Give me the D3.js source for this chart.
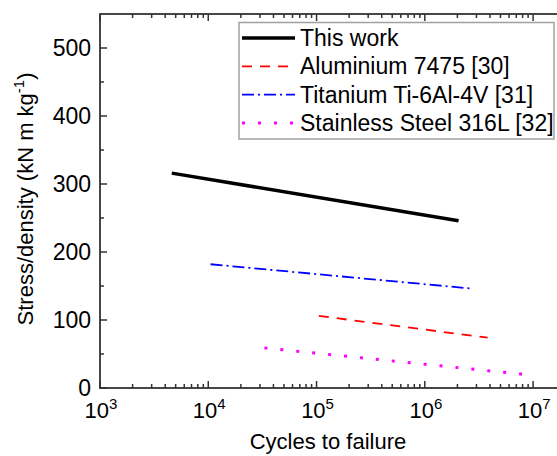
<!DOCTYPE html>
<html>
<head>
<meta charset="utf-8">
<script src="https://cdn.jsdelivr.net/npm/d3@7"></script>
<style>
  body { margin: 0; background: #fff; }
  text { font-family: "Liberation Sans", Arial, sans-serif; fill: #000; }
</style>
</head>
<body>
<div id="chart"></div>
<script>
// Series data (cycles, stress/density)
var thisWork = [[4.6e3, 316], [2.05e6, 246]];
var aluminium = [[1.05e5, 106], [3.8e6, 74]];
var titanium = [[1.05e4, 182], [2.8e6, 146]];
var stainless = [[3.3e4, 59], [8.3e6, 20]];

var seriesNames = ["This work", "Aluminium 7475 [30]", "Titanium Ti-6Al-4V [31]", "Stainless Steel 316L [32]"];
var xTickExps = [3, 4, 5, 6, 7];
var yTicks = [0, 100, 200, 300, 400, 500];

var width = 557, height = 456;

// Plot box (note: "top" is reserved on window, so use plot* names)
var plotLeft = 100, plotRight = 564, plotTop = 14, plotBottom = 388;

var x = d3.scaleLog().domain([1e3, 1.93e7]).range([plotLeft, plotRight]);
var y = d3.scaleLinear().domain([0, 550]).range([plotBottom, plotTop]);

var svg = d3.select("#chart").append("svg")
  .attr("width", width)
  .attr("height", height);

var series = [
  { data: thisWork, color: "#000000", width: 3.5, dash: null },
  { data: aluminium, color: "#ff0000", width: 1.8, dash: "10,8" },
  { data: titanium, color: "#0000ff", width: 1.8, dash: "12,4,2,4" },
  { data: stainless, color: "#ff00ff", width: 3, dash: "3,13" }
];

var line = d3.line()
  .x(function (d) { return x(d[0]); })
  .y(function (d) { return y(d[1]); });

// Lines
svg.selectAll("path.series")
  .data(series)
  .enter()
  .append("path")
  .attr("class", "series")
  .attr("d", function (d) { return line(d.data); })
  .attr("fill", "none")
  .attr("stroke", function (d) { return d.color; })
  .attr("stroke-width", function (d) { return d.width; })
  .attr("stroke-dasharray", function (d) { return d.dash; });

// Minor / major ticks
var axisColor = "#333";
var xMajor = xTickExps.map(function (e) { return Math.pow(10, e); });
var xMinor = [];
xTickExps.forEach(function (e) {
  for (var k = 2; k <= 9; k++) {
    var v = k * Math.pow(10, e);
    if (v < x.domain()[1]) xMinor.push(v);
  }
});
var yMinor = [50, 150, 250, 350, 450];

var ticks = svg.append("g").attr("stroke", axisColor).attr("stroke-width", 1.5);

[plotBottom, plotTop].forEach(function (base) {
  var dir = base === plotBottom ? -1 : 1;
  ticks.selectAll(null).data(xMajor).enter().append("line")
    .attr("x1", function (d) { return x(d); }).attr("x2", function (d) { return x(d); })
    .attr("y1", base).attr("y2", base + dir * 7);
  ticks.selectAll(null).data(xMinor).enter().append("line")
    .attr("x1", function (d) { return x(d); }).attr("x2", function (d) { return x(d); })
    .attr("y1", base).attr("y2", base + dir * 4);
});

[plotLeft, plotRight].forEach(function (base) {
  var dir = base === plotLeft ? 1 : -1;
  ticks.selectAll(null).data(yTicks).enter().append("line")
    .attr("y1", function (d) { return y(d); }).attr("y2", function (d) { return y(d); })
    .attr("x1", base).attr("x2", base + dir * 7);
  ticks.selectAll(null).data(yMinor).enter().append("line")
    .attr("y1", function (d) { return y(d); }).attr("y2", function (d) { return y(d); })
    .attr("x1", base).attr("x2", base + dir * 4);
});

// Frame
svg.append("rect")
  .attr("x", plotLeft).attr("y", plotTop)
  .attr("width", plotRight - plotLeft).attr("height", plotBottom - plotTop)
  .attr("fill", "none")
  .attr("stroke", axisColor)
  .attr("stroke-width", 1.8);

// Y tick labels
svg.selectAll("text.ylab")
  .data(yTicks)
  .enter()
  .append("text")
  .attr("class", "ylab")
  .attr("x", plotLeft - 9)
  .attr("y", function (d) { return y(d) + 8; })
  .attr("text-anchor", "end")
  .style("font-size", "23px")
  .text(function (d) { return d; });

// X tick labels: 10^n
var xl = svg.selectAll("text.xlab")
  .data(xTickExps)
  .enter()
  .append("text")
  .attr("class", "xlab")
  .attr("x", function (d) { return x(Math.pow(10, d)) + 1; })
  .attr("y", 418)
  .attr("text-anchor", "middle")
  .style("font-size", "22px");
xl.append("tspan").text("10");
xl.append("tspan").attr("dy", -9).style("font-size", "15px").text(function (d) { return d; });

// Axis titles
svg.append("text")
  .attr("x", (plotLeft + plotRight) / 2 - 4)
  .attr("y", 449)
  .attr("text-anchor", "middle")
  .style("font-size", "22px")
  .text("Cycles to failure");

var yt = svg.append("text")
  .attr("transform", "translate(33," + ((plotTop + plotBottom) / 2 - 2) + ") rotate(-90)")
  .attr("text-anchor", "middle")
  .style("font-size", "22px");
yt.append("tspan").text("Stress/density (kN m kg");
yt.append("tspan").attr("dy", -9).style("font-size", "15px").text("-1");
yt.append("tspan").attr("dy", 9).text(")");

// Legend
var legend = svg.append("g");
legend.append("rect")
  .attr("x", 239).attr("y", 22.5)
  .attr("width", 315).attr("height", 116.5)
  .attr("fill", "#fff")
  .attr("stroke", "#a0a0a0")
  .attr("stroke-width", 1.5);

var rows = legend.selectAll("g.row")
  .data(series)
  .enter()
  .append("g")
  .attr("class", "row")
  .attr("transform", function (d, i) { return "translate(0," + (38 + i * 28.3) + ")"; });

rows.append("line")
  .attr("x1", 242).attr("x2", 295)
  .attr("y1", 0).attr("y2", 0)
  .attr("stroke", function (d) { return d.color; })
  .attr("stroke-width", function (d) { return d.width; })
  .attr("stroke-dasharray", function (d) { return d.dash; });

rows.append("text")
  .attr("x", 300)
  .attr("y", 8)
  .style("font-size", "23px")
  .text(function (d, i) { return seriesNames[i]; });
</script>
</body>
</html>
